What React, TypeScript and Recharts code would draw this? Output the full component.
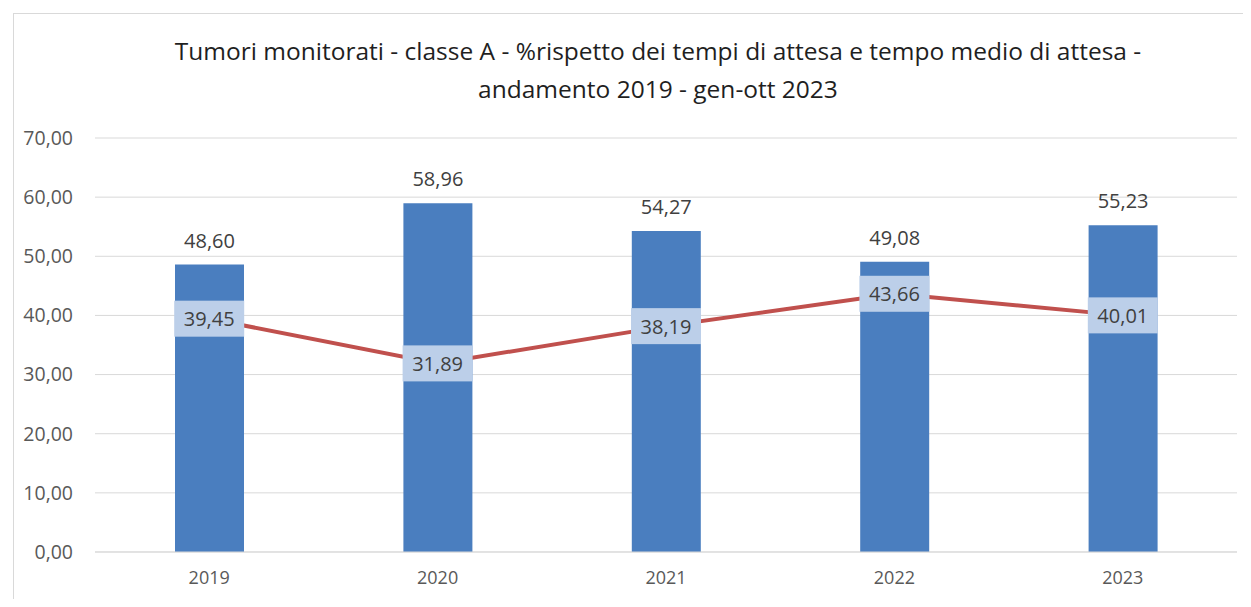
import React from "react";
import { Bar, CartesianGrid, ComposedChart, LabelList, Line, XAxis, YAxis } from "recharts";

const YEARS = ["2019", "2020", "2021", "2022", "2023"];
const RISPETTO = [48.6, 58.96, 54.27, 49.08, 55.23];
const TEMPO_MEDIO = [39.45, 31.89, 38.19, 43.66, 40.01];
const Y_TICKS = [0, 10, 20, 30, 40, 50, 60, 70];

const data = YEARS.map((year, i) => ({
  year,
  rispetto: RISPETTO[i],
  tempo: TEMPO_MEDIO[i]
}));

const FONT = "'Open Sans', 'Noto Sans', sans-serif";
const fmt = (v: number) => v.toFixed(2).replace(".", ",");

const LineLabel = (props: any) => {
  const { x, y, value } = props;
  const w = 70;
  const h = 36;
  return (
    <g>
      <rect x={x - w / 2} y={y - h / 2} width={w} height={h} fill="#bccfe9" />
      <text
        x={x}
        y={y}
        textAnchor="middle"
        dominantBaseline="central"
        fontSize={20}
        fontFamily={FONT}
        fill="#404040"
      >
        {fmt(value)}
      </text>
    </g>
  );
};

export default function App() {
  return (
    <div
      style={{
        position: "relative",
        width: 1251,
        height: 607,
        margin: -8,
        background: "#fff",
        overflow: "hidden"
      }}
    >
      <div
        style={{
          position: "absolute",
          left: 13,
          top: 13,
          width: 1300,
          height: 700,
          border: "1px solid #d9d9d9"
        }}
      />
      <div style={{ position: "absolute", left: 0, top: 0 }}>
        <ComposedChart
          width={1251}
          height={607}
          data={data}
          margin={{ top: 138, right: 14, bottom: 15, left: 15 }}
        >
          <text
            x={658}
            y={50}
            textAnchor="middle"
            dominantBaseline="central"
            fontSize={24.5}
            fontFamily={FONT}
            fill="#1f1f1f"
          >
            Tumori monitorati - classe A - %rispetto dei tempi di attesa e tempo medio di attesa -
          </text>
          <text
            x={658}
            y={88}
            textAnchor="middle"
            dominantBaseline="central"
            fontSize={24.5}
            fontFamily={FONT}
            fill="#1f1f1f"
          >
            andamento 2019 - gen-ott 2023
          </text>
          <CartesianGrid vertical={false} stroke="#d9d9d9" />
          <XAxis
            dataKey="year"
            axisLine={{ stroke: "#d9d9d9" }}
            tickLine={false}
            height={40}
            tickMargin={13}
            tick={{ fontSize: 18, fontFamily: FONT, fill: "#595959" }}
          />
          <YAxis
            domain={[0, 70]}
            ticks={Y_TICKS}
            width={80}
            axisLine={false}
            tickLine={false}
            tickSize={0}
            tickMargin={22}
            tickFormatter={fmt}
            tick={{ fontSize: 19.5, fontFamily: FONT, fill: "#595959" }}
          />
          <Bar dataKey="rispetto" fill="#4a7ebf" barSize={69} isAnimationActive={false}>
            <LabelList
              dataKey="rispetto"
              position="top"
              offset={17}
              formatter={(v: any) => fmt(Number(v))}
              style={{ fontSize: 20, fontFamily: FONT, fill: "#404040" }}
            />
          </Bar>
          <Line
            dataKey="tempo"
            stroke="#c0504d"
            strokeWidth={4}
            dot={false}
            activeDot={false}
            isAnimationActive={false}
          >
            <LabelList dataKey="tempo" content={<LineLabel />} />
          </Line>
        </ComposedChart>
      </div>
    </div>
  );
}
